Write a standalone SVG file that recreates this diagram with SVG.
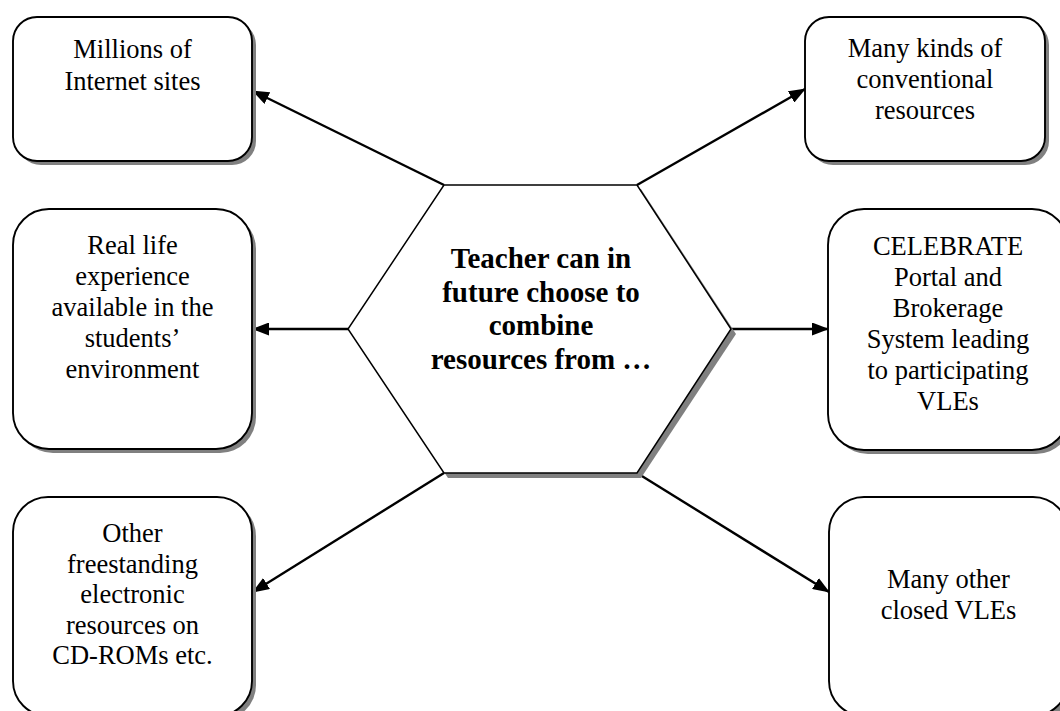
<svg xmlns="http://www.w3.org/2000/svg" width="1060" height="711" viewBox="0 0 1060 711">
<defs>
<marker id="arr" markerUnits="userSpaceOnUse" markerWidth="17" markerHeight="13" refX="16" refY="6.5" orient="auto">
<path d="M0,0 L17,6.5 L0,13 z" fill="#000"/>
</marker>
</defs>
<style>
.box{fill:#fff;stroke:#000;stroke-width:1.9}
.sh{fill:#808080;stroke:none}
.t{font-family:"Liberation Serif","Times New Roman",serif;font-size:26.5px;fill:#000;text-anchor:middle}
.b{font-family:"Liberation Serif","Times New Roman",serif;font-size:29px;font-weight:bold;fill:#000;text-anchor:middle}
.c{stroke:#000;stroke-width:2.4;fill:none;marker-end:url(#arr)}
</style>
<rect width="1060" height="711" fill="#fff"/>
<g id="connectors">
<line class="c" x1="444" y1="185" x2="253" y2="91"/>
<line class="c" x1="637" y1="185" x2="805" y2="89"/>
<line class="c" x1="348" y1="329" x2="253" y2="329"/>
<line class="c" x1="731" y1="329" x2="828" y2="329"/>
<line class="c" x1="444" y1="473" x2="253" y2="592"/>
<line class="c" x1="637" y1="473" x2="829" y2="592"/>
</g>
<g id="center">
<polygon class="sh" points="448,189 641,189 736,334 641,478 448,478 352,333"/>
<polygon points="444,185 637,185 731,329 637,473 444,473 348,329" fill="#fff" stroke="#000" stroke-width="1.5"/>
<text class="b" x="541" y="268">Teacher can in</text>
<text class="b" x="541" y="301.5">future choose to</text>
<text class="b" x="541" y="335">combine</text>
<text class="b" x="541" y="368.5">resources from …</text>
</g>
<g id="internet">
<rect class="sh" x="17" y="21" width="239" height="144" rx="24"/>
<rect class="box" x="13" y="17" width="239" height="144" rx="24"/>
<text class="t" x="132.5" y="58">Millions of</text>
<text class="t" x="132.5" y="90">Internet sites</text>
</g>
<g id="conventional">
<rect class="sh" x="809" y="21" width="240" height="144" rx="24"/>
<rect class="box" x="805" y="17" width="240" height="144" rx="24"/>
<text class="t" x="925" y="57">Many kinds of</text>
<text class="t" x="925" y="88">conventional</text>
<text class="t" x="925" y="119">resources</text>
</g>
<g id="reallife">
<rect class="sh" x="17" y="213" width="239" height="240" rx="36"/>
<rect class="box" x="13" y="209" width="239" height="240" rx="36"/>
<text class="t" x="132.5" y="254">Real life</text>
<text class="t" x="132.5" y="285">experience</text>
<text class="t" x="132.5" y="316">available in the</text>
<text class="t" x="132.5" y="347">students’</text>
<text class="t" x="132.5" y="378">environment</text>
</g>
<g id="celebrate">
<rect class="sh" x="832" y="213" width="240" height="241" rx="36"/>
<rect class="box" x="828" y="209" width="240" height="241" rx="36"/>
<text class="t" x="948" y="255">CELEBRATE</text>
<text class="t" x="948" y="286">Portal and</text>
<text class="t" x="948" y="317">Brokerage</text>
<text class="t" x="948" y="348">System leading</text>
<text class="t" x="948" y="379">to participating</text>
<text class="t" x="948" y="410">VLEs</text>
</g>
<g id="freestanding">
<rect class="sh" x="17" y="501" width="239" height="219" rx="35"/>
<rect class="box" x="13" y="497" width="239" height="219" rx="35"/>
<text class="t" x="132.5" y="542">Other</text>
<text class="t" x="132.5" y="572.5">freestanding</text>
<text class="t" x="132.5" y="603">electronic</text>
<text class="t" x="132.5" y="633.5">resources on</text>
<text class="t" x="132.5" y="664">CD-ROMs etc.</text>
</g>
<g id="closed">
<rect class="sh" x="833" y="501" width="239" height="219" rx="35"/>
<rect class="box" x="829" y="497" width="239" height="219" rx="35"/>
<text class="t" x="948.5" y="588">Many other</text>
<text class="t" x="948.5" y="619">closed VLEs</text>
</g>
</svg>
